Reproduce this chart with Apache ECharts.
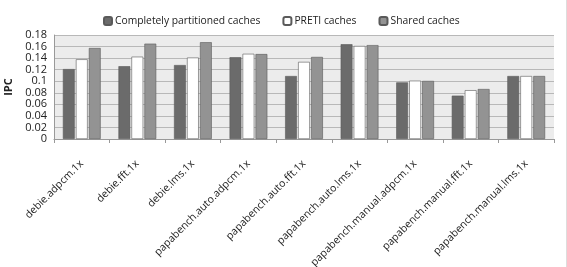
<!DOCTYPE html>
<html>
<head>
<meta charset="utf-8">
<script src="https://cdn.jsdelivr.net/npm/echarts@6/dist/echarts.min.js"></script>
<style>
  html, body { margin: 0; padding: 0; background: #fff; }
  #chart { width: 567px; height: 267px; box-sizing: border-box; border-right: 1px solid #ddd; }
</style>
</head>
<body>
<div id="chart"></div>
<script>
var categories = ['debie.adpcm.1x', 'debie.fft.1x', 'debie.lms.1x', 'papabench.auto.adpcm.1x',
    'papabench.auto.fft.1x', 'papabench.auto.lms.1x', 'papabench.manual.adpcm.1x',
    'papabench.manual.fft.1x', 'papabench.manual.lms.1x'];
var partitioned = [0.121, 0.126, 0.128, 0.1415, 0.109, 0.164, 0.098, 0.075, 0.109];
var preti = [0.138, 0.1425, 0.141, 0.1475, 0.1335, 0.161, 0.101, 0.0845, 0.109];
var shared = [0.1575, 0.165, 0.1675, 0.147, 0.142, 0.1625, 0.1005, 0.0865, 0.109];
var yTicks = [0, 0.02, 0.04, 0.06, 0.08, 0.1, 0.12, 0.14, 0.16, 0.18];

var font = 'Open Sans, Noto Sans, sans-serif';

var setChart = function (targetid) {
    var barStyle = function (color) {
        return {color: color, borderColor: '#5a5a5a', borderWidth: 0.6};
    };
    var option = {
        animation: false,
        textStyle: {fontFamily: font},
        legend: {
            top: 11,
            left: 98,
            itemWidth: 8,
            itemHeight: 8,
            itemGap: 22,
            textStyle: {fontSize: 10.3, color: '#222', fontFamily: font, padding: [0, 0, 0, -2]},
            data: ['Completely partitioned caches', 'PRETI caches', 'Shared caches']
        },
        grid: {
            left: 54,
            right: 12,
            top: 35,
            bottom: 128,
            containLabel: false,
            outerBoundsMode: 'none',
            show: true,
            backgroundColor: '#ececec',
            borderWidth: 0
        },
        xAxis: [
            {
                type: 'category',
                data: categories,
                axisLine: {lineStyle: {color: '#999'}},
                axisTick: {show: true, length: 4, lineStyle: {color: '#999'}},
                axisLabel: {rotate: 45, fontSize: 10.5, color: '#222', margin: 23, interval: 0}
            }
        ],
        yAxis: [
            {
                type: 'value',
                name: 'IPC',
                nameLocation: 'middle',
                nameGap: 40,
                nameTextStyle: {fontWeight: 'bold', fontSize: 11, color: '#222'},
                min: 0,
                max: 0.18,
                interval: 0.02,
                axisLine: {show: true, lineStyle: {color: '#999'}},
                axisTick: {show: false},
                splitLine: {lineStyle: {color: '#b8b8b8'}},
                axisLabel: {
                    fontSize: 11, lineHeight: 10, color: '#222', margin: 7, hideOverlap: false,
                    showMinLabel: true, showMaxLabel: true,
                    formatter: function (v) {
                        return String(+v.toFixed(2));
                    }
                }
            }
        ],
        series: [
            {
                name: 'Completely partitioned caches',
                type: 'bar',
                barGap: '10%',
                barCategoryGap: '32%',
                itemStyle: barStyle('#6b6b6b'),
                data: partitioned
            },
            {
                name: 'PRETI caches',
                type: 'bar',
                itemStyle: barStyle('#ffffff'),
                data: preti
            },
            {
                name: 'Shared caches',
                type: 'bar',
                itemStyle: barStyle('#939393'),
                data: shared
            }
        ]
    };

    var myChart = echarts.init(document.getElementById(targetid));
    myChart.setOption(option);
};

setChart('chart');
</script>
</body>
</html>
